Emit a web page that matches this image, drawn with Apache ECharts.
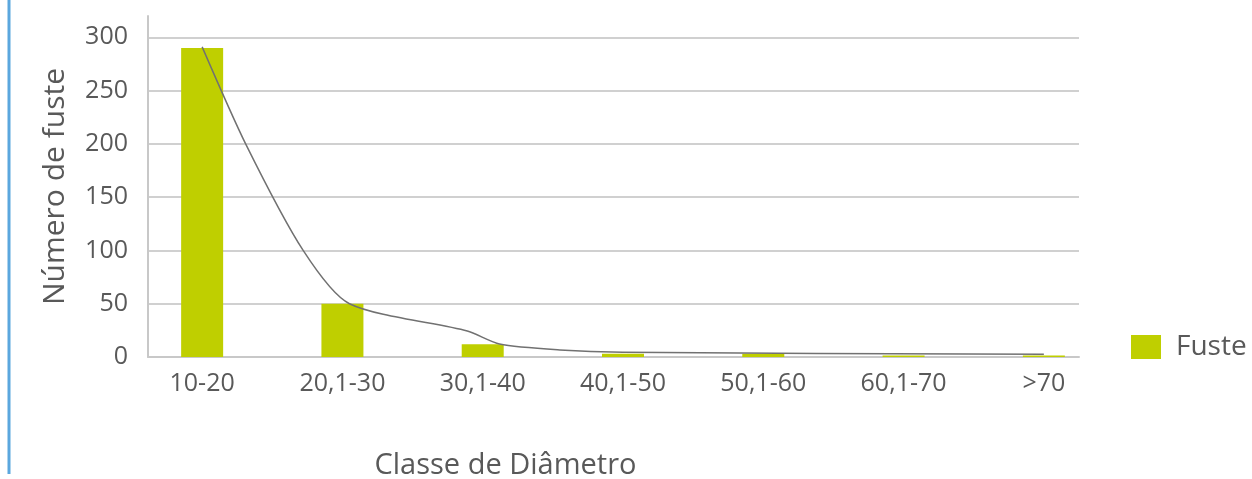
<!DOCTYPE html>
<html>
<head>
<meta charset="utf-8">
<script src="https://cdn.jsdelivr.net/npm/echarts@6/dist/echarts.min.js"></script>
<style>html,body{margin:0;padding:0;background:#fff}#c{width:1252px;height:479px}</style>
</head>
<body>
<div id="c"></div>
<script>
const categories = ['10-20', '20,1-30', '30,1-40', '40,1-50', '50,1-60', '60,1-70', '>70'];
const fusteValues = [290, 50, 12, 3, 3, 1.5, 1.5];
// trend curve: position in category units, value
const curveX = [0, 0.31, 0.72, 1.05, 1.89, 2.12, 2.55, 3.0, 6];
const curveY = [291, 200, 100, 50, 24.4, 12.2, 6.6, 4.4, 2.5];
const yTicks = [0, 50, 100, 150, 200, 250, 300];

const FONT = '"Open Sans", Lato, sans-serif';
const TXT = '#595959';
const chart = echarts.init(document.getElementById('c'), null, {renderer: 'canvas'});
chart.setOption({
  animation: false,
  textStyle: {fontFamily: FONT},
  grid: [
    {left: 148, width: 931, top: 16, height: 341, outerBoundsMode: 'none', containLabel: false},
    {left: 132, width: 982, top: 16, height: 341, outerBoundsMode: 'none', containLabel: false}
  ],
  xAxis: [
    {gridIndex: 0, type: 'value', min: 0, max: 1, axisLabel: {show: false}, axisTick: {show: false},
     splitLine: {show: false}, axisLine: {show: true, lineStyle: {color: '#c8c8c8', width: 2}},
     name: 'Classe de Diâmetro', nameLocation: 'middle', nameGap: 94,
     nameTextStyle: {fontSize: 29, color: TXT, fontFamily: FONT, padding: [0, 216, 0, 0]}},
    {gridIndex: 1, type: 'category', data: categories, boundaryGap: true,
     axisLine: {show: false}, axisTick: {show: false},
     axisLabel: {fontSize: 25, color: TXT, margin: 14, fontFamily: FONT, interval: 0}},
    {gridIndex: 1, type: 'value', min: -0.5, max: 6.5, show: false}
  ],
  yAxis: [
    {gridIndex: 0, type: 'value', min: 0, max: 320, interval: 50,
     axisLine: {show: true, lineStyle: {color: '#c8c8c8', width: 2}},
     axisTick: {show: false},
     axisLabel: {fontSize: 25, color: TXT, margin: 20, showMaxLabel: false, fontFamily: FONT,
       formatter: v => yTicks.includes(v) ? String(v) : ''},
     splitLine: {show: true, showMaxLine: false, lineStyle: {color: '#d0d0d0', width: 2}},
     name: 'Número de fuste', nameLocation: 'middle', nameGap: 78, nameRotate: 90,
     nameTextStyle: {fontSize: 30, color: TXT, fontFamily: FONT}},
    {gridIndex: 1, type: 'value', min: 0, max: 320, show: false}
  ],
  legend: {
    data: ['Fuste'], left: 1126, top: 328, itemWidth: 30, itemHeight: 24, icon: 'rect',
    textStyle: {fontSize: 28, color: TXT, fontFamily: FONT, padding: [0, 0, 0, 10]}
  },
  graphic: [
    {type: 'line', shape: {x1: 9, y1: 0, x2: 9, y2: 474}, style: {stroke: '#5ba7de', lineWidth: 3}}
  ],
  series: [
    {name: 'Fuste', type: 'bar', xAxisIndex: 1, yAxisIndex: 1, data: fusteValues, barWidth: 42,
     itemStyle: {color: '#bfcf00'}},
    {name: 'curva', type: 'line', xAxisIndex: 2, yAxisIndex: 1, smooth: 0.25, showSymbol: false,
     data: curveX.map((x, i) => [x, curveY[i]]), lineStyle: {color: '#717171', width: 1.5}, z: 3}
  ]
});
</script>
</body>
</html>
